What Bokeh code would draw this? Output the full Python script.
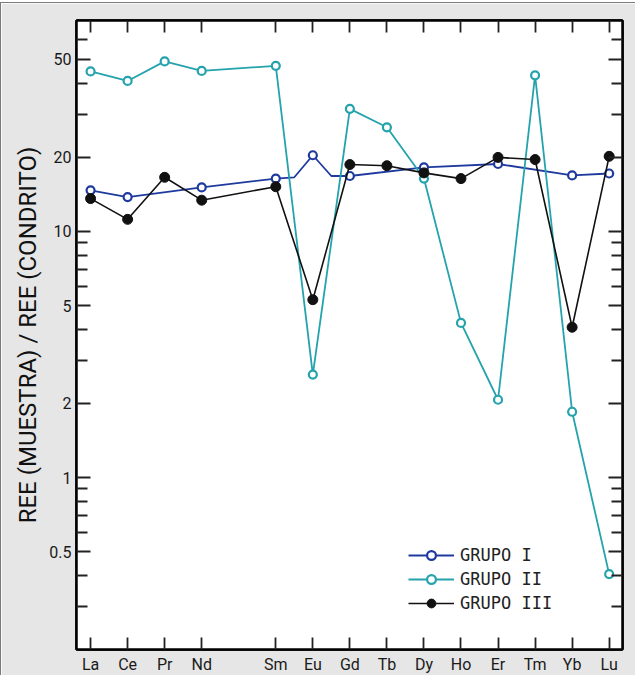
from bokeh.plotting import figure
from bokeh.models import (FixedTicker, CustomJSTickFormatter, LinearAxis, LogAxis,
                          Legend, LegendItem, BoxAnnotation)
from bokeh.embed import file_html
from bokeh.resources import INLINE

# ---- data ----
elements = ["La", "Ce", "Pr", "Nd", "Pm", "Sm", "Eu", "Gd", "Tb", "Dy", "Ho", "Er", "Tm", "Yb", "Lu"]
grupo_i = [14.7, 13.8, None, 15.1, None, 16.4, 20.4, 16.8, None, 18.2, None, 18.8, None, 16.9, 17.2]
grupo_i_extra_x = [5.5, 6.5]
grupo_i_extra_y = [16.6, 16.8]
grupo_ii = [44.7, 40.9, 49.1, 44.9, None, 47.1, 2.62, 31.5, 26.5, 16.4, 4.25, 2.07, 43.1, 1.85, 0.405]
grupo_iii = [13.6, 11.2, 16.6, 13.4, None, 15.2, 5.28, 18.7, 18.5, 17.3, 16.4, 20.0, 19.6, 4.08, 20.2]
y_major = [0.5, 1, 2, 5, 10, 20, 50]
y_minor = [0.3, 0.4, 0.6, 0.7, 0.8, 0.9, 3, 4, 6, 7, 8, 9, 30, 40, 60]

idx = list(range(len(elements)))
label_idx = [i for i, e in enumerate(elements) if e != "Pm"]


def pts(vals):
    xs = [i for i in idx if vals[i] is not None]
    return xs, [vals[i] for i in xs]


FONT = "Roboto"
BLUE = "#1f3a9e"
CYAN = "#25a3ad"
BLACK = "#111111"

p = figure(width=635, height=673, y_axis_type="log",
           x_range=(-0.38, 14.36), y_range=(0.2, 72),
           output_backend="svg", toolbar_location=None,
           background_fill_color=None, border_fill_color="#e6e6e6",
           min_border_left=75, min_border_right=14, min_border_top=17, min_border_bottom=27)
p.styles = {"margin-top": "2px", "border-top": "1px solid #7a7a7a", "border-left": "1px solid #7a7a7a"}
p.grid.visible = False
p.outline_line_color = "black"
p.outline_line_width = 2.5
p.add_layout(BoxAnnotation(fill_color="white", fill_alpha=1, line_color=None, level="underlay"))

yticker = FixedTicker(ticks=y_major, minor_ticks=y_minor)
xticker = FixedTicker(ticks=label_idx, minor_ticks=[])
xfmt = CustomJSTickFormatter(args=dict(labels=elements), code="return labels[Math.round(tick)];")
yfmt = CustomJSTickFormatter(code="return String(Math.round(tick*10)/10);")
blank = CustomJSTickFormatter(code="return '';")

ya = p.yaxis[0]
ya.ticker = yticker
ya.formatter = yfmt
xa = p.xaxis[0]
xa.ticker = xticker
xa.formatter = xfmt

ra = LogAxis(ticker=yticker, formatter=blank)
ta = LinearAxis(ticker=xticker, formatter=blank)
p.add_layout(ra, "right")
p.add_layout(ta, "above")

for ax in [ya, ra]:
    ax.major_tick_in = 14
    ax.major_tick_out = 0
    ax.minor_tick_in = 11
    ax.minor_tick_out = 0
for ax in [xa, ta]:
    ax.major_tick_in = 12
    ax.major_tick_out = 0
    ax.minor_tick_in = 0
    ax.minor_tick_out = 0
for ax in [ya, ra, xa, ta]:
    ax.axis_line_width = 2.5
    ax.axis_line_color = "black"
    ax.major_tick_line_width = 1.8
    ax.minor_tick_line_width = 1.8
    ax.major_tick_line_color = "#222222"
    ax.minor_tick_line_color = "#222222"
    ax.major_label_text_font = FONT
    ax.major_label_text_color = "#1a1a1a"
ya.major_label_text_font_size = "16px"
xa.major_label_text_font_size = "16px"
ya.major_label_standoff = 5
xa.major_label_standoff = 5
ya.axis_label = "REE (MUESTRA) / REE (CONDRITO)"
ya.axis_label_text_font = FONT
ya.axis_label_text_font_size = "24px"
ya.axis_label_text_font_style = "normal"
ya.axis_label_text_color = "#111111"
ya.axis_label_standoff = 4

# group I
x1, y1 = pts(grupo_i)
lx = x1 + grupo_i_extra_x
ly = y1 + grupo_i_extra_y
order = sorted(range(len(lx)), key=lambda k: lx[k])
l1 = p.line([lx[k] for k in order], [ly[k] for k in order], line_color=BLUE, line_width=1.8)
m1 = p.scatter(x1, y1, size=8, marker="circle", fill_color="white", line_color=BLUE, line_width=2.2)

# group II
x2, y2 = pts(grupo_ii)
l2 = p.line(x2, y2, line_color=CYAN, line_width=1.8)
m2 = p.scatter(x2, y2, size=8, marker="circle", fill_color="white", line_color=CYAN, line_width=2.2)

# group III
x3, y3 = pts(grupo_iii)
l3 = p.line(x3, y3, line_color=BLACK, line_width=1.6)
m3 = p.scatter(x3, y3, size=10, marker="circle", fill_color=BLACK, line_color=BLACK)

legend = Legend(items=[LegendItem(label="GRUPO I", renderers=[l1, m1]),
                       LegendItem(label="GRUPO II", renderers=[l2, m2]),
                       LegendItem(label="GRUPO III", renderers=[l3, m3])],
                location=(332, 35), orientation="vertical")
legend.background_fill_alpha = 0
legend.border_line_color = None
legend.padding = 0
legend.margin = 0
legend.spacing = 2
legend.glyph_width = 46
legend.glyph_height = 22
legend.label_height = 22
legend.label_standoff = 6
legend.label_text_font = "DejaVu Sans Mono"
legend.label_text_font_size = "17px"
legend.label_text_color = "#222222"
p.add_layout(legend, "center")

open("out.html", "w").write(file_html(p, INLINE))
